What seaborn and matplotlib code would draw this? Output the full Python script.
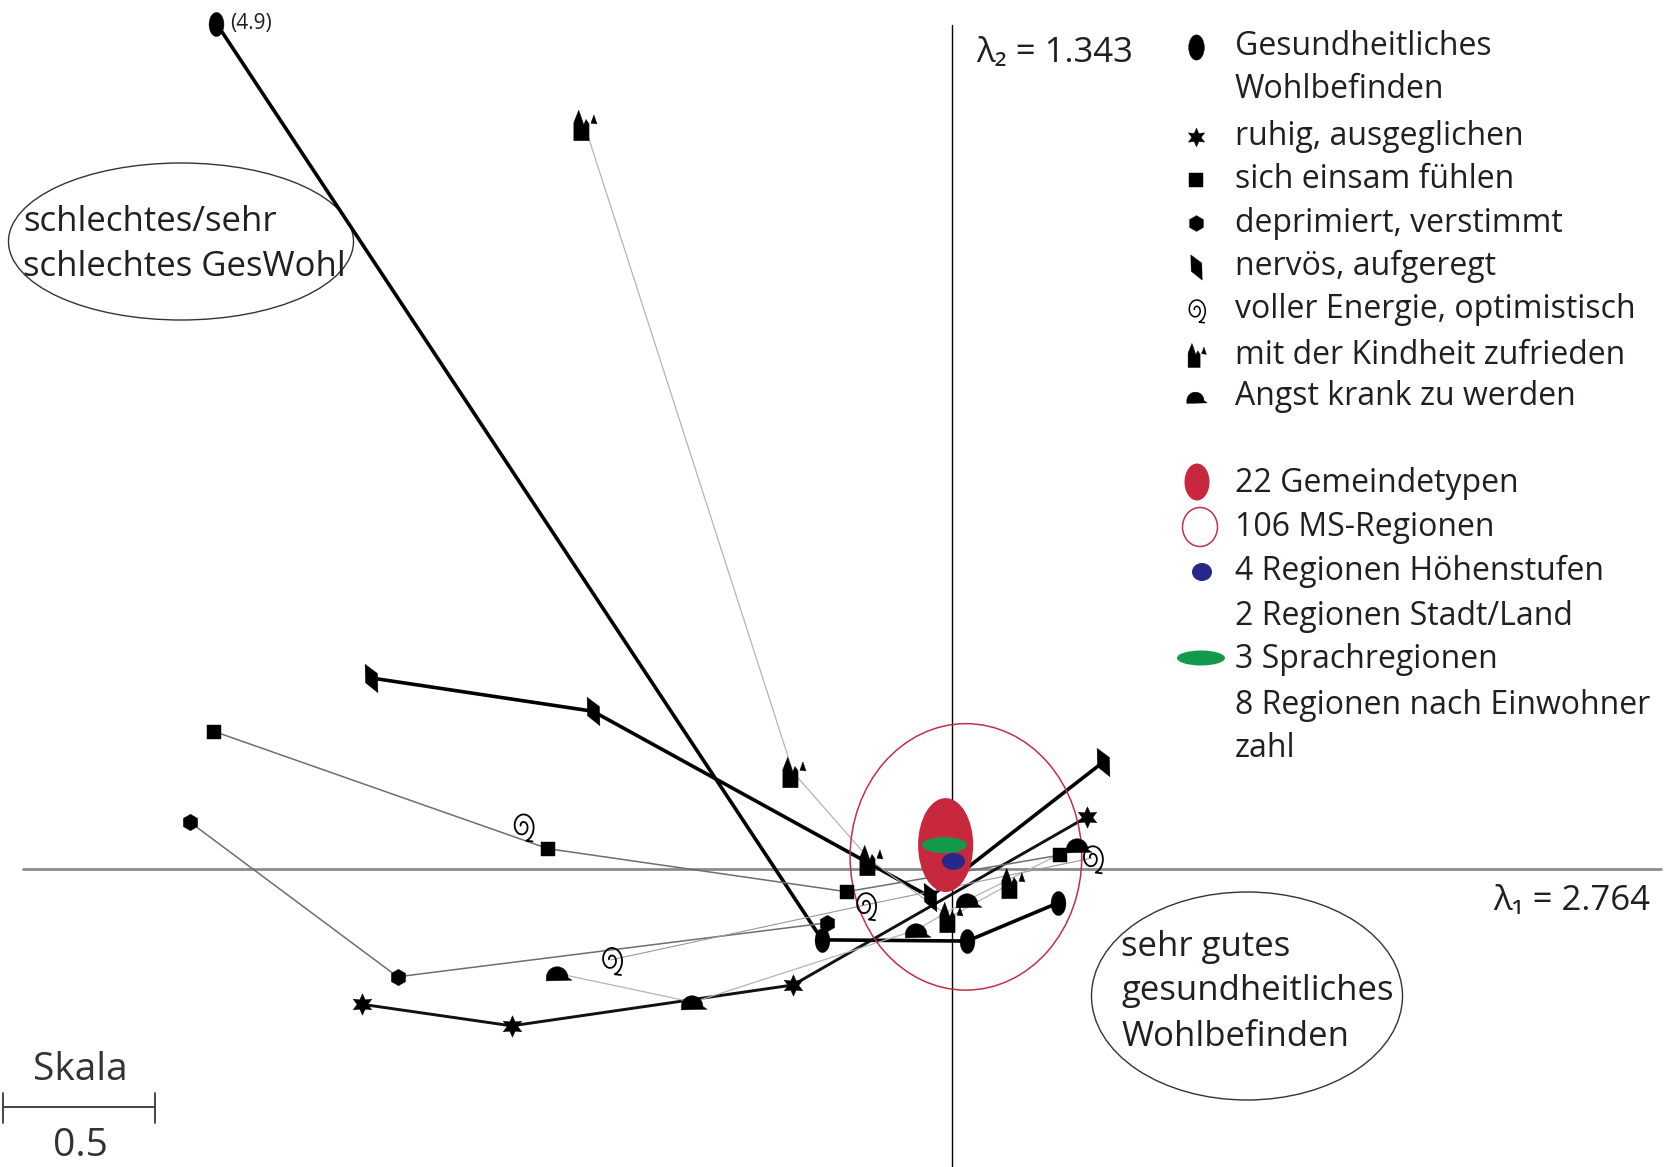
import numpy as np
import pandas as pd
import matplotlib
matplotlib.use("Agg")
import matplotlib.pyplot as plt
import seaborn as sns
from matplotlib.path import Path
from matplotlib.markers import MarkerStyle
from matplotlib.patches import Ellipse
from matplotlib.transforms import Affine2D

# ---------------- data (correspondence-analysis coordinates) ----------------
ges_x = [-2.429, -0.429, 0.050, 0.350]
ges_y = [2.792, -0.234, -0.238, -0.112]
ruhig_x = [-1.947, -1.454, -0.525, 0.446]
ruhig_y = [-0.447, -0.518, -0.383, 0.172]
einsam_x = [-2.436, -1.334, -0.348, 0.357]
einsam_y = [0.454, 0.067, -0.075, 0.046]
depr_x = [-2.517, -1.831, -0.414]
depr_y = [0.155, -0.356, -0.178]
nerv_x = [-1.919, -1.186, -0.073, 0.499]
nerv_y = [0.631, 0.521, -0.092, 0.353]
energie_x = [-1.418, -1.126, -0.287, 0.462]
energie_y = [0.141, -0.300, -0.119, 0.036]
kind_x = [-1.214, -0.525, -0.271, -0.007, 0.197]
kind_y = [2.458, 0.320, 0.030, -0.159, -0.046]
angst_x = [-1.302, -0.855, -0.117, 0.053, 0.416]
angst_y = [-0.345, -0.440, -0.201, -0.102, 0.079]

# region ellipses: centre x, centre y, width, height
region_names = ["22 Gemeindetypen", "106 MS-Regionen", "4 Regionen Höhenstufen", "3 Sprachregionen"]
region_cx = [-0.021, 0.046, 0.005, -0.025]
region_cy = [0.079, 0.040, 0.025, 0.079]
region_w = [0.182, 0.765, 0.076, 0.149]
region_h = [0.310, 0.880, 0.056, 0.053]

legend_labels = ["Gesundheitliches\nWohlbefinden", "ruhig, ausgeglichen", "sich einsam fühlen",
                 "deprimiert, verstimmt", "nervös, aufgeregt", "voller Energie, optimistisch",
                 "mit der Kindheit zufrieden", "Angst krank zu werden"]
legend2_labels = ["22 Gemeindetypen", "106 MS-Regionen", "4 Regionen Höhenstufen",
                  "2 Regionen Stadt/Land", "3 Sprachregionen", "8 Regionen nach Einwohner", "zahl"]
lambda1 = "2.764"
lambda2 = "1.343"
offscale_label = "(4.9)"

# ---------------- marker shapes ----------------
uc = Path.unit_circle()
m_ell = MarkerStyle(Path(uc.vertices * np.array([0.62, 1.0]), uc.codes))
m_star = MarkerStyle((6, 1, 0))
m_sq = MarkerStyle("s")
m_hex = MarkerStyle("h")
m_nerv = MarkerStyle(Path([(-0.45, 1.0), (0.42, 0.35), (0.45, -1.0), (-0.42, -0.3), (-0.45, 1.0)],
                          [Path.MOVETO, Path.LINETO, Path.LINETO, Path.LINETO, Path.CLOSEPOLY]))
t = np.linspace(0.0, 3.4 * np.pi, 140)
r = 0.15 + 0.85 * t / t[-1]
sp_v = np.column_stack([-r * np.cos(t) * 0.8, r * np.sin(t)])
sp_v = np.vstack([sp_v, sp_v[-1] + np.array([0.45, -0.05])])
m_spiral = MarkerStyle(Path(sp_v))
body = Path([(-0.7, -1.0), (0.3, -1.0), (0.3, 0.1), (0.1, 0.4), (-0.05, 0.05), (-0.2, 0.5),
             (-0.38, 1.0), (-0.7, 0.2), (-0.7, -1.0)],
            [Path.MOVETO] + [Path.LINETO] * 7 + [Path.CLOSEPOLY])
ear = Path([(0.42, 0.15), (0.62, 0.7), (0.82, 0.1), (0.42, 0.15)],
           [Path.MOVETO, Path.LINETO, Path.LINETO, Path.CLOSEPOLY])
m_kind = MarkerStyle(Path.make_compound_path(body, ear))
a = np.linspace(0, np.pi, 30)
dome = [(np.cos(x) * 0.8 - 0.1, np.sin(x) * 0.8 - 0.3) for x in a]
dome = [(1.0, -0.5)] + dome + [(-0.9, -0.55), (1.0, -0.5)]
m_angst = MarkerStyle(Path(dome, [Path.MOVETO] + [Path.LINETO] * (len(dome) - 2) + [Path.CLOSEPOLY]))

# ---------------- figure ----------------
W, H = 1672, 1167
sns.set_theme(style="white")
plt.rcParams["font.family"] = ["Open Sans", "DejaVu Sans"]
fig = plt.figure(figsize=(W / 100, H / 100), dpi=100)
ax = fig.add_axes([0, 0, 1, 1])
U = 302.8
ax.set_xlim(-952 / U, (W - 952) / U)
ax.set_ylim((869 - H) / U, 869 / U)
ax.axis("off")
pix = Affine2D().scale(1 / W, -1 / H).translate(0, 1) + fig.transFigure
TXT = "#231f20"
FS = 23

ax.axhline(0, xmin=23 / W, xmax=1661 / W, color="#8c8c8c", lw=2.0, zorder=1)
ax.axvline(0, ymin=0, ymax=(H - 25) / H, color="black", lw=1.0, zorder=1)

series = [
    (ges_x, ges_y, m_ell, 300, "black", 2.6, slice(None)),
    (ruhig_x, ruhig_y, m_star, 240, "#111111", 2.1, slice(None)),
    (einsam_x, einsam_y, m_sq, 100, "#6e6e6e", 1.1, slice(None)),
    (depr_x, depr_y, m_hex, 140, "#6e6e6e", 1.1, slice(None)),
    (nerv_x, nerv_y, m_nerv, 420, "black", 2.6, slice(None)),
    (energie_x, energie_y, m_spiral, 480, "#9a9a9a", 0.8, slice(1, None)),
    (kind_x, kind_y, m_kind, 480, "#b4b4b4", 0.9, slice(None)),
    (angst_x, angst_y, m_angst, 380, "#b4b4b4", 0.9, slice(None)),
]
for xs, ys, mk, s, lc, lw, sl in series:
    sns.lineplot(x=xs[sl], y=ys[sl], sort=False, estimator=None, color=lc, lw=lw, ax=ax, zorder=2)

# region ellipses
ax.add_patch(Ellipse((region_cx[1], region_cy[1]), region_w[1], region_h[1], fill=False,
                     ec="#c0304a", lw=1.1, zorder=3))
ax.add_patch(Ellipse((region_cx[0], region_cy[0]), region_w[0], region_h[0], fc="#c8283e",
                     ec="none", zorder=3))
ax.add_patch(Ellipse((region_cx[2], region_cy[2]), region_w[2], region_h[2], fc="#27298a",
                     ec="none", zorder=4))
ax.add_patch(Ellipse((region_cx[3], region_cy[3]), region_w[3], region_h[3], fc="#13994a",
                     ec="none", zorder=5))

for xs, ys, mk, s, lc, lw, sl in series:
    if mk is m_spiral:
        sns.scatterplot(x=xs, y=ys, marker=mk, s=s, facecolors="none", edgecolors="black",
                        linewidth=1.3, ax=ax, zorder=6)
    else:
        sns.scatterplot(x=xs, y=ys, marker=mk, s=s, color="black", edgecolor="black",
                        linewidth=0.3, ax=ax, zorder=6)

ax.text(230, 24, offscale_label, transform=pix, fontsize=15, color=TXT, va="center", ha="left")

# lambda labels
ax.text(976, 53, "λ₂ = " + lambda2, transform=pix, fontsize=25, color=TXT, va="center", ha="left")
ax.text(1493, 901, "λ₁ = " + lambda1, transform=pix, fontsize=25, color=TXT, va="center", ha="left")

# annotation ellipses
ax.add_patch(Ellipse((181, 241.5), 345, 157, transform=pix, fill=False, ec="#333333", lw=1.0))
ax.text(23, 222, "schlechtes/sehr", transform=pix, fontsize=25, color=TXT, va="center")
ax.text(23, 267, "schlechtes GesWohl", transform=pix, fontsize=25, color=TXT, va="center")
ax.add_patch(Ellipse((1247, 996), 311, 208, transform=pix, fill=False, ec="#333333", lw=1.0))
for yy, tt in zip([947, 991, 1037], ["sehr gutes", "gesundheitliches", "Wohlbefinden"]):
    ax.text(1121, yy, tt, transform=pix, fontsize=25, color=TXT, va="center")

# legend, first group
leg_y = [46.7, 90, 136.7, 180, 223, 266.7, 310, 355, 396.7]
mk_list = [m_ell, m_star, m_sq, m_hex, m_nerv, m_spiral, m_kind, m_angst]
mk_s = [330, 180, 90, 130, 330, 340, 300, 240]
lines = ["Gesundheitliches", "Wohlbefinden"] + legend_labels[1:]
for yy, tt in zip(leg_y, lines):
    ax.text(1235, yy, tt, transform=pix, fontsize=FS, color=TXT, va="center", ha="left")
rows = [0, 2, 3, 4, 5, 6, 7, 8]
for mk, s, ri in zip(mk_list, mk_s, rows):
    if mk is m_spiral:
        ax.scatter([1196], [leg_y[ri]], marker=mk, s=s, facecolors="none", edgecolors="black",
                   linewidths=1.1, transform=pix)
    else:
        ax.scatter([1196], [leg_y[ri]], marker=mk, s=s, color="black", linewidths=0.3, transform=pix)

# legend, second group
leg2_y = [483, 528, 571.7, 616.7, 660, 705, 748.3]
for yy, tt in zip(leg2_y, legend2_labels):
    ax.text(1235, yy, tt, transform=pix, fontsize=FS, color=TXT, va="center", ha="left")
ax.add_patch(Ellipse((1197, 482), 25, 37, transform=pix, fc="#c8283e", ec="none"))
ax.add_patch(Ellipse((1200, 527), 35, 39, transform=pix, fill=False, ec="#c0304a", lw=1.1))
ax.add_patch(Ellipse((1202, 572), 20, 18, transform=pix, fc="#27298a", ec="none"))
ax.add_patch(Ellipse((1201, 658), 48, 15, transform=pix, fc="#13994a", ec="none"))

# scale bar
ax.plot([3, 155], [1107, 1107], transform=pix, color="#444444", lw=1.4)
ax.plot([3, 3], [1093, 1123], transform=pix, color="#444444", lw=1.4)
ax.plot([155, 155], [1093, 1123], transform=pix, color="#444444", lw=1.4)
ax.text(80, 1070, "Skala", transform=pix, fontsize=28, color="#333333", ha="center", va="center")
ax.text(80, 1146, "0.5", transform=pix, fontsize=28, color="#333333", ha="center", va="center")

fig.savefig("out.png", dpi=100, facecolor="white")
